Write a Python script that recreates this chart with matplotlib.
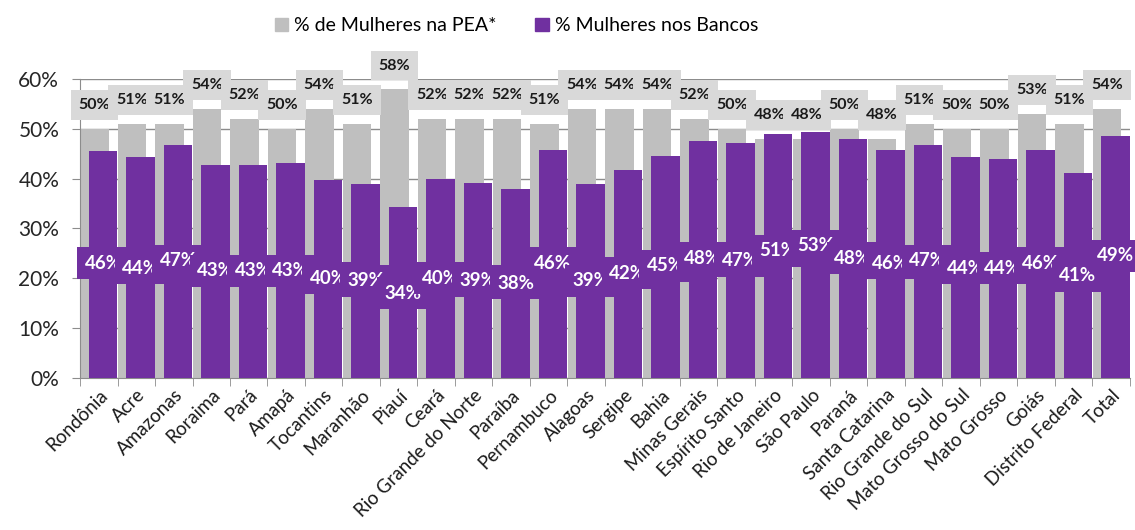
import numpy as np
import matplotlib.pyplot as plt
from matplotlib.patches import Patch

plt.rcParams['font.family'] = ['Lato', 'DejaVu Sans']

estados = ["Rondônia", "Acre", "Amazonas", "Roraima", "Pará", "Amapá", "Tocantins",
           "Maranhão", "Piauí", "Ceará", "Rio Grande do Norte", "Paraíba", "Pernambuco",
           "Alagoas", "Sergipe", "Bahia", "Minas Gerais", "Espírito Santo",
           "Rio de Janeiro", "São Paulo", "Paraná", "Santa Catarina",
           "Rio Grande do Sul", "Mato Grosso do Sul", "Mato Grosso", "Goiás",
           "Distrito Federal", "Total"]

# % de mulheres na PEA (bar heights = labels)
pea = [50, 51, 51, 54, 52, 50, 54, 51, 58, 52, 52, 52, 51, 54, 54, 54, 52, 50,
       48, 48, 50, 48, 51, 50, 50, 53, 51, 54]

# % mulheres nos bancos, bar heights
bancos = [45.6, 44.3, 46.8, 42.7, 42.7, 43.2, 39.7, 38.9, 34.3, 39.9, 39.1, 37.9,
          45.8, 38.9, 41.7, 44.5, 47.6, 47.1, 48.9, 49.4, 47.9, 45.7, 46.8, 44.3,
          44.0, 45.8, 41.1, 48.6]
# the labels printed on the purple bars
bancos_lbl = [46, 44, 47, 43, 43, 43, 40, 39, 34, 40, 39, 38, 46, 39, 42, 45, 48,
              47, 51, 53, 48, 46, 47, 44, 44, 46, 41, 49]

cinza = "#bfbfbf"
roxo = "#7030a0"

fig = plt.figure(figsize=(11.35, 5.3), dpi=100)
ax = fig.add_axes([0.0705, 0.2868, 0.925, 0.5642])

x = np.arange(len(estados))
w = 0.76
ax.bar(x - 0.115, pea, w, color=cinza, zorder=2)
ax.bar(x + 0.115, bancos, w, color=roxo, zorder=3)

ax.set_xlim(-0.5, len(estados) - 0.5)
ax.set_ylim(0, 60)
ax.set_yticks(range(0, 61, 10))
ax.set_yticklabels(["%d%%" % v for v in range(0, 61, 10)], fontsize=15, color="#262626")
ax.yaxis.grid(True, color="#8c8c8c", lw=1, zorder=0)
ax.set_axisbelow(True)

ax.set_xticks(x)
ax.set_xticklabels(estados, rotation=45, ha="right", rotation_mode="anchor",
                   fontsize=13.5, color="#1a1a1a")
ax.set_xticks(np.arange(-0.5, len(estados)), minor=True)
ax.tick_params(axis="x", which="major", length=0, pad=6)
ax.tick_params(axis="x", which="minor", length=6, color="#8c8c8c")
ax.tick_params(axis="y", length=6, color="#8c8c8c", pad=9)

for s in ["top", "right"]:
    ax.spines[s].set_visible(False)
for s in ["left", "bottom"]:
    ax.spines[s].set_color("#8c8c8c")

# rótulos cinza acima das barras
for i in range(len(estados)):
    ax.text(x[i] - 0.115, pea[i] + 4.7, "%d%%" % pea[i], ha="center", va="center",
            fontsize=11.5, fontweight="bold", color="#1a1a1a", zorder=10, clip_on=False,
            bbox=dict(boxstyle="square,pad=0.5", fc="#d9d9d9", ec="none"))

# rótulos roxos no meio das barras
for i in range(len(estados)):
    ax.text(x[i] + 0.115, bancos_lbl[i] / 2, "%d%%" % bancos_lbl[i], ha="center",
            va="center", fontsize=13.5, fontweight="bold", color="white", zorder=8,
            bbox=dict(boxstyle="square,pad=0.4", fc=roxo, ec="none"))

handles = [Patch(color=cinza, label="% de Mulheres na PEA*"),
           Patch(color=roxo, label="% Mulheres nos Bancos")]
fig.legend(handles=handles, loc="upper center", bbox_to_anchor=(0.455, 1.0), ncol=2,
           frameon=False, fontsize=14, handlelength=0.7, handleheight=0.7,
           handletextpad=0.3, columnspacing=2.0)

fig.savefig("out.png", dpi=100)
